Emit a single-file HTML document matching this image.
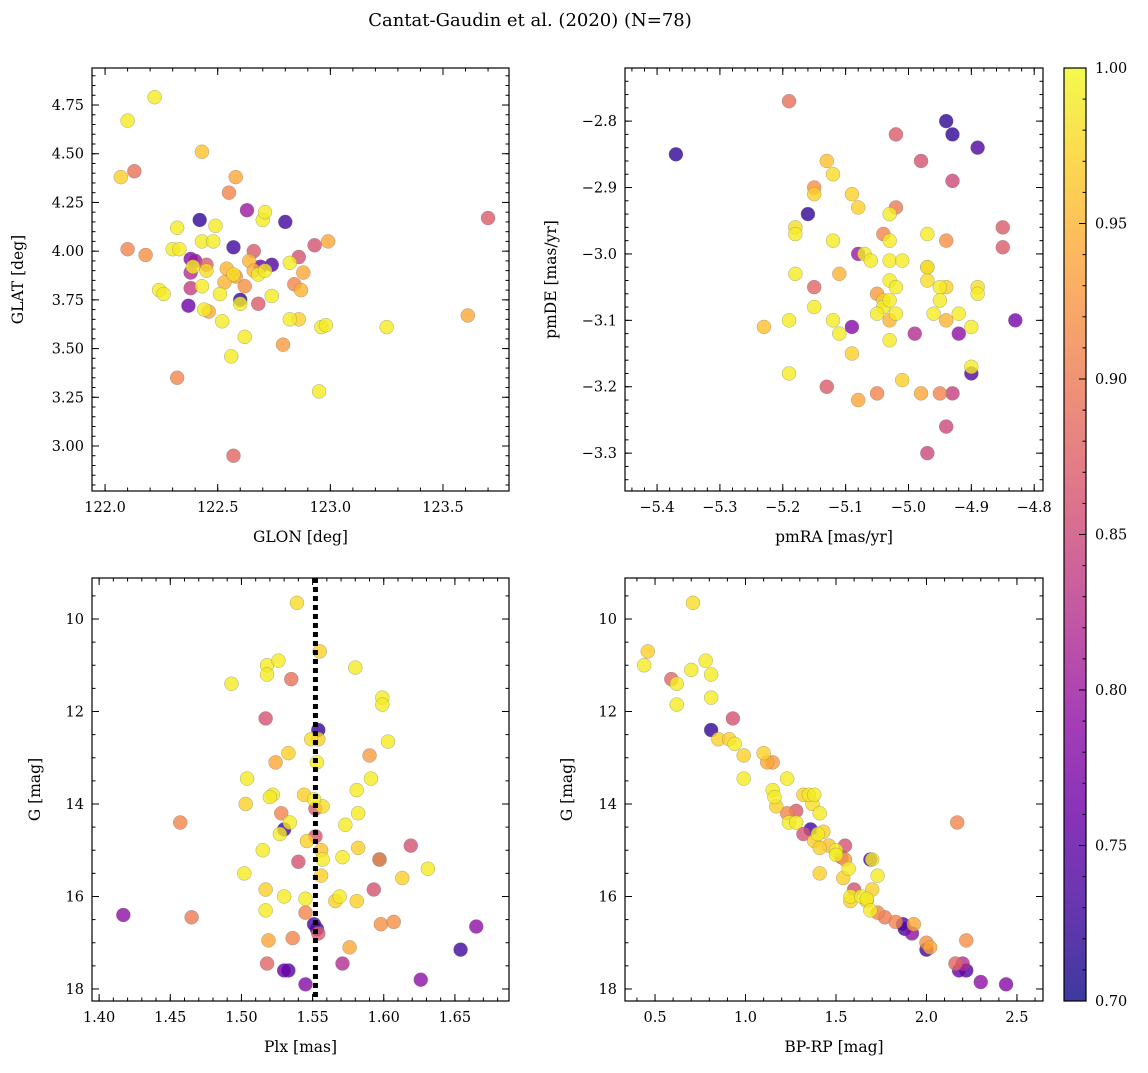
<!DOCTYPE html>
<html><head><meta charset="utf-8"><style>
body{margin:0;background:#fff}
svg text{font-family:"DejaVu Serif","Liberation Serif",serif;fill:#000}
</style></head><body>
<svg id="fig" width="1148" height="1068" xmlns="http://www.w3.org/2000/svg">
<defs><linearGradient id="plasma" x1="0" y1="1" x2="0" y2="0"></linearGradient></defs>
<text x="530" y="26" font-size="18" text-anchor="middle">Cantat-Gaudin et al. (2020) (N=78)</text>
</svg>
<script>
// ---- Data: panel 1 (GLON vs GLAT) ----
const glon1 = [122.07,122.10,122.22,122.13,122.10,122.18,122.24,122.26,122.30,122.32,122.33,122.43,122.42,122.38,122.40,122.38,122.39,122.38,122.37,122.43,122.45,122.48,122.49,122.43,122.44,122.46,122.51,122.52,122.53,122.54,122.55,122.56,122.57,122.58,122.57,122.58,122.60,122.60,122.62,122.62,122.63,122.64,122.66,122.68,122.68,122.69,122.70,122.71,122.71,122.74,122.74,122.80,122.79,122.82,122.82,122.84,122.86,122.86,122.87,122.88,122.93,122.96,122.98,122.99,122.95,123.25,123.61,123.70,122.32,122.66,122.45,122.57];
const glat1 = [4.38,4.67,4.79,4.41,4.01,3.98,3.80,3.78,4.01,4.12,4.01,4.51,4.16,3.96,3.95,3.89,3.92,3.81,3.72,4.05,3.93,4.05,4.13,3.82,3.70,3.69,3.78,3.64,3.84,3.91,4.30,3.46,2.95,4.38,4.02,3.87,3.73,3.75,3.82,3.56,4.21,3.95,4.00,3.73,3.88,3.92,4.16,4.20,3.90,3.93,3.77,4.15,3.52,3.94,3.65,3.83,3.65,3.97,3.80,3.89,4.03,3.61,3.62,4.05,3.28,3.61,3.67,4.17,3.35,3.90,3.90,3.88];
const prob1 = [0.97,0.99,0.99,0.89,0.91,0.92,0.99,0.99,0.99,0.99,0.99,0.96,0.72,0.78,0.80,0.82,0.99,0.84,0.76,0.99,0.87,0.99,0.99,0.99,0.99,0.94,0.99,0.99,0.95,0.95,0.91,0.99,0.88,0.94,0.73,0.93,0.99,0.72,0.92,0.99,0.80,0.95,0.87,0.87,0.99,0.76,0.99,0.99,0.99,0.74,0.99,0.73,0.93,0.99,0.99,0.91,0.97,0.86,0.95,0.94,0.86,0.99,0.99,0.94,0.99,0.99,0.94,0.87,0.91,0.95,0.98,0.98];
// ---- Data: panel 2 (pmRA vs pmDE) ----
const pmra2 = [-5.37,-5.19,-5.16,-5.15,-5.15,-5.13,-5.12,-5.18,-5.18,-5.18,-5.12,-5.11,-5.15,-5.15,-5.19,-5.23,-5.19,-5.12,-5.11,-5.13,-5.09,-5.09,-5.08,-5.09,-5.08,-5.08,-5.07,-5.06,-5.02,-5.04,-5.03,-5.03,-5.02,-5.05,-5.04,-5.04,-5.05,-5.03,-5.03,-5.02,-5.03,-5.02,-5.03,-5.01,-5.03,-5.05,-5.01,-4.99,-4.98,-4.97,-4.97,-4.97,-4.97,-4.98,-4.97,-4.96,-4.94,-4.93,-4.93,-4.94,-4.94,-4.95,-4.94,-4.95,-4.95,-4.93,-4.94,-4.92,-4.92,-4.90,-4.90,-4.90,-4.89,-4.89,-4.89,-4.85,-4.85,-4.83];
const pmde2 = [-2.85,-2.77,-2.94,-2.90,-2.91,-2.86,-2.88,-2.96,-2.97,-3.03,-2.98,-3.03,-3.05,-3.08,-3.10,-3.11,-3.18,-3.10,-3.12,-3.20,-3.15,-3.11,-3.22,-2.91,-2.93,-3.00,-3.00,-3.01,-2.82,-2.97,-2.98,-2.94,-2.93,-3.06,-3.07,-3.08,-3.09,-3.10,-3.07,-3.09,-3.04,-3.05,-3.01,-3.01,-3.13,-3.21,-3.19,-3.12,-2.86,-3.02,-2.97,-3.02,-3.04,-3.21,-3.30,-3.09,-2.80,-2.82,-2.89,-2.98,-3.05,-3.05,-3.10,-3.07,-3.21,-3.21,-3.26,-3.09,-3.12,-3.11,-3.18,-3.17,-2.84,-3.05,-3.06,-2.96,-2.99,-3.10];
const prob2 = [0.72,0.89,0.72,0.92,0.97,0.96,0.98,0.98,0.99,0.99,0.99,0.95,0.88,0.99,0.99,0.96,0.99,0.99,0.99,0.87,0.97,0.78,0.94,0.97,0.97,0.80,0.99,0.99,0.87,0.91,0.99,0.99,0.90,0.93,0.97,0.99,0.99,0.95,0.99,0.99,0.99,0.99,0.99,0.99,0.99,0.91,0.97,0.82,0.86,0.92,0.99,0.99,0.98,0.94,0.85,0.99,0.72,0.72,0.85,0.92,0.97,0.99,0.95,0.99,0.91,0.84,0.85,0.99,0.79,0.99,0.74,0.99,0.74,0.98,0.99,0.87,0.87,0.77];
// ---- Data: panel 3 (Plx vs G) ----
const plx3 = [1.539,1.555,1.580,1.518,1.526,1.518,1.535,1.493,1.599,1.599,1.517,1.554,1.549,1.554,1.603,1.533,1.524,1.590,1.504,1.553,1.591,1.581,1.522,1.520,1.544,1.551,1.503,1.557,1.552,1.582,1.528,1.534,1.530,1.527,1.457,1.573,1.552,1.546,1.515,1.556,1.582,1.619,1.557,1.540,1.571,1.597,1.597,1.502,1.556,1.631,1.613,1.517,1.593,1.569,1.566,1.581,1.530,1.545,1.517,1.545,1.465,1.417,1.551,1.553,1.554,1.598,1.607,1.519,1.536,1.576,1.518,1.571,1.530,1.533,1.545,1.626,1.654,1.665];
const g3 = [9.65,10.7,11.05,11.0,10.9,11.2,11.3,11.4,11.7,11.85,12.15,12.4,12.6,12.6,12.65,12.9,13.1,12.95,13.45,13.1,13.45,13.7,13.8,13.85,13.8,13.9,14.0,14.05,14.1,14.2,14.2,14.4,14.55,14.65,14.4,14.45,14.7,14.8,15.0,15.0,14.95,14.9,15.2,15.25,15.15,15.2,15.2,15.5,15.55,15.4,15.6,15.85,15.85,16.0,16.1,16.1,16.0,16.05,16.3,16.35,16.45,16.4,16.6,16.7,16.8,16.6,16.55,16.95,16.9,17.1,17.45,17.45,17.6,17.6,17.9,17.8,17.15,16.65];
const prob3 = [0.98,0.97,0.99,0.99,0.99,0.99,0.89,0.99,0.99,0.99,0.86,0.72,0.98,0.97,0.99,0.97,0.94,0.93,0.99,0.99,0.99,0.99,0.99,0.99,0.97,0.99,0.97,0.98,0.87,0.99,0.91,0.99,0.73,0.99,0.91,0.99,0.86,0.97,0.99,0.96,0.97,0.86,0.99,0.86,0.99,0.73,0.93,0.99,0.97,0.99,0.97,0.97,0.86,0.99,0.97,0.97,0.99,0.99,0.99,0.91,0.90,0.79,0.74,0.73,0.87,0.92,0.92,0.94,0.91,0.94,0.88,0.82,0.76,0.74,0.78,0.79,0.73,0.79];
const plxMean = 1.552;
// ---- Data: panel 4 (BP-RP vs G) ----
const bprp4 = [0.71,0.46,0.44,0.70,0.59,0.62,0.78,0.81,0.81,0.62,0.81,0.93,0.85,0.91,0.94,0.99,1.10,1.12,1.15,1.23,0.99,1.15,1.16,1.32,1.35,1.38,1.17,1.37,1.23,1.28,1.41,1.24,1.28,1.36,1.43,1.40,1.32,1.38,1.41,1.46,1.50,1.50,1.55,1.53,1.55,1.57,1.69,1.70,1.73,1.41,1.54,1.60,1.70,1.58,1.64,1.58,1.67,1.69,1.67,1.73,1.77,1.83,1.87,1.88,1.93,1.92,2.00,2.02,2.00,2.16,2.20,2.18,2.22,2.17,2.22,2.30,2.44];
const g4 = [9.65,10.7,11.0,11.1,11.3,11.4,10.9,11.2,11.7,11.85,12.4,12.15,12.6,12.6,12.7,12.95,12.9,13.1,13.1,13.45,13.45,13.7,13.85,13.8,13.8,13.8,14.05,14.0,14.2,14.15,14.2,14.4,14.4,14.55,14.6,14.65,14.65,14.8,14.95,14.9,15.0,15.1,14.9,15.15,15.2,15.4,15.2,15.2,15.55,15.5,15.6,15.85,15.85,16.0,16.0,16.1,16.05,16.3,16.1,16.35,16.45,16.55,16.6,16.7,16.6,16.8,17.0,17.1,17.15,17.45,17.45,17.6,17.6,14.4,16.95,17.85,17.9];
const prob4 = [0.98,0.97,0.99,0.99,0.88,0.99,0.99,0.99,0.99,0.99,0.72,0.86,0.97,0.97,0.99,0.97,0.97,0.94,0.93,0.99,0.99,0.99,0.99,0.97,0.99,0.99,0.97,0.98,0.91,0.87,0.99,0.99,0.99,0.73,0.97,0.99,0.86,0.97,0.97,0.96,0.99,0.99,0.86,0.86,0.93,0.99,0.73,0.99,0.99,0.97,0.97,0.86,0.97,0.99,0.99,0.97,0.99,0.99,0.97,0.91,0.90,0.91,0.74,0.73,0.94,0.79,0.92,0.94,0.73,0.88,0.82,0.76,0.74,0.91,0.92,0.79,0.78];
// colorbar ticks
const cbTicks = [0.70,0.75,0.80,0.85,0.90,0.95,1.00];

const NS="http://www.w3.org/2000/svg";
const svg=document.getElementById('fig');
function mk(tag,attrs,parent){const e=document.createElementNS(NS,tag);for(const k in attrs)e.setAttribute(k,attrs[k]);(parent||svg).appendChild(e);return e;}
const stops=[[13,8,135],[65,4,157],[106,0,168],[143,13,164],[177,42,144],[204,71,120],[225,100,98],[242,132,75],[252,166,54],[252,206,37],[240,249,33]];
function plasma(t){t=Math.max(0,Math.min(1,t));const f=t*10,i=Math.min(9,Math.floor(f)),r=f-i;const a=stops[i],b=stops[i+1];return `rgb(${Math.round(a[0]+(b[0]-a[0])*r)},${Math.round(a[1]+(b[1]-a[1])*r)},${Math.round(a[2]+(b[2]-a[2])*r)})`;}
const vmin=0.7,vmax=1.0;
function col(p){return plasma((p-vmin)/(vmax-vmin));}

function panel(cfg){
  const {name,L,R,T,B,xmin,xmax,ymin,ymax,xs,ys,ps,xMaj,xMin,yMaj,yMin,xfmt,yfmt,xlabel,ylabel,invertY}=cfg;
  const sx=v=>L+(v-xmin)/(xmax-xmin)*(R-L);
  const sy=invertY?(v=>T+(v-ymin)/(ymax-ymin)*(B-T)):(v=>B-(v-ymin)/(ymax-ymin)*(B-T));
  const g=mk('g',{});
  
  
  const pg=mk('g',{},g);
  
  
  const idx=xs.map((_,i)=>i).sort((a,b)=>ps[a]-ps[b]);
  idx.forEach(i=>{
    const c=mk('circle',{cx:sx(xs[i]),cy:sy(ys[i]),r:7,fill:col(ps[i]),'fill-opacity':0.8,stroke:'#777','stroke-width':0.5,'stroke-opacity':0.6},pg);
    
    
  });
  if(cfg.vline!==undefined){
    const l=mk('line',{x1:sx(cfg.vline),x2:sx(cfg.vline),y1:T,y2:B,stroke:'#000','stroke-width':5,'stroke-dasharray':'5,4'},g);
    
    
  }
  const fr=mk('rect',{x:L,y:T,width:R-L,height:B-T,fill:'none',stroke:'#000','stroke-width':1.2},g);
  
  
  const tk=mk('g',{stroke:'#000','stroke-width':1},g);
  const e=1e-9;
  for(let v=Math.ceil(xmin/xMin-e)*xMin;v<=xmax+e;v+=xMin){const x=sx(v);mk('line',{x1:x,x2:x,y1:B,y2:B-3.5},tk);mk('line',{x1:x,x2:x,y1:T,y2:T+3.5},tk);}
  for(let v=Math.ceil(ymin/yMin-e)*yMin;v<=ymax+e;v+=yMin){const y=sy(v);mk('line',{x1:L,x2:L+3.5,y1:y,y2:y},tk);mk('line',{x1:R,x2:R-3.5,y1:y,y2:y},tk);}
  for(let v=Math.ceil(xmin/xMaj-e)*xMaj;v<=xmax+e;v+=xMaj){const x=sx(v);mk('line',{x1:x,x2:x,y1:B,y2:B-7},tk);mk('line',{x1:x,x2:x,y1:T,y2:T+7},tk);
    const t=mk('text',{x:x,y:B+21,'font-size':14.5,'text-anchor':'middle'},g);t.textContent=xfmt(v);
    }
  for(let v=Math.ceil(ymin/yMaj-e)*yMaj;v<=ymax+e;v+=yMaj){const y=sy(v);mk('line',{x1:L,x2:L+7,y1:y,y2:y},tk);mk('line',{x1:R,x2:R-7,y1:y,y2:y},tk);
    const t=mk('text',{x:L-8,y:y+5,'font-size':14.5,'text-anchor':'end'},g);t.textContent=yfmt(v);
    }
  const xl=mk('text',{x:(L+R)/2,y:B+51,'font-size':15.5,'text-anchor':'middle'},g);xl.textContent=xlabel;
  
  const yx=cfg.ylx;
  const yl=mk('text',{x:yx,y:(T+B)/2,'font-size':15.5,'text-anchor':'middle',transform:`rotate(-90 ${yx} ${(T+B)/2})`},g);yl.textContent=ylabel;
  
}
const m=v=>(v<0?'\u2212':'')+Math.abs(v).toFixed(1);
panel({name:'glon-glat',L:92,R:509,T:68,B:491,xmin:121.942,xmax:123.793,ymin:2.769,ymax:4.94,xs:glon1,ys:glat1,ps:prob1,xMaj:0.5,xMin:0.1,yMaj:0.25,yMin:0.05,xfmt:v=>v.toFixed(1),yfmt:v=>v.toFixed(2),xlabel:'GLON [deg]',ylabel:'GLAT [deg]',ylx:23});
panel({name:'proper-motion',L:625,R:1043,T:68,B:491,xmin:-5.451,xmax:-4.786,ymin:-3.357,ymax:-2.72,xs:pmra2,ys:pmde2,ps:prob2,xMaj:0.1,xMin:0.02,yMaj:0.1,yMin:0.02,xfmt:v=>m(v),yfmt:v=>m(v),xlabel:'pmRA [mas/yr]',ylabel:'pmDE [mas/yr]',ylx:556});
panel({name:'parallax-mag',L:92,R:509,T:578,B:1001,xmin:1.395,xmax:1.688,ymin:9.113,ymax:18.26,invertY:true,xs:plx3,ys:g3,ps:prob3,xMaj:0.05,xMin:0.01,yMaj:2,yMin:0.5,xfmt:v=>v.toFixed(2),yfmt:v=>Math.round(v),xlabel:'Plx [mas]',ylabel:'G [mag]',ylx:40,vline:plxMean});
panel({name:'cmd',L:625,R:1043,T:578,B:1001,xmin:0.334,xmax:2.644,ymin:9.113,ymax:18.26,invertY:true,xs:bprp4,ys:g4,ps:prob4,xMaj:0.5,xMin:0.1,yMaj:2,yMin:0.5,xfmt:v=>v.toFixed(1),yfmt:v=>Math.round(v),xlabel:'BP-RP [mag]',ylabel:'G [mag]',ylx:572});

// colorbar
const grad=document.getElementById('plasma');
stops.forEach((s,i)=>mk('stop',{offset:i/10,'stop-color':`rgb(${s})`},grad));
const cbL=1064,cbR=1086,cbT=68,cbB=1001;
const cb=mk('g',{});


mk('rect',{x:cbL,y:cbT,width:cbR-cbL,height:cbB-cbT,fill:'url(#plasma)','fill-opacity':0.8},cb);
mk('rect',{x:cbL,y:cbT,width:cbR-cbL,height:cbB-cbT,fill:'none',stroke:'#000','stroke-width':1.2},cb);
const cy=v=>cbB-(v-vmin)/(vmax-vmin)*(cbB-cbT);
for(let v=0.70;v<=1.0001;v+=0.01){mk('line',{x1:cbR,x2:cbR-3.5,y1:cy(v),y2:cy(v),stroke:'#000'},cb);}
cbTicks.forEach(v=>{mk('line',{x1:cbR,x2:cbR-7,y1:cy(v),y2:cy(v),stroke:'#000'},cb);
  const t=mk('text',{x:cbR+9,y:cy(v)+5,'font-size':14.5},cb);t.textContent=v.toFixed(2);
  });
</script>
</body></html>
